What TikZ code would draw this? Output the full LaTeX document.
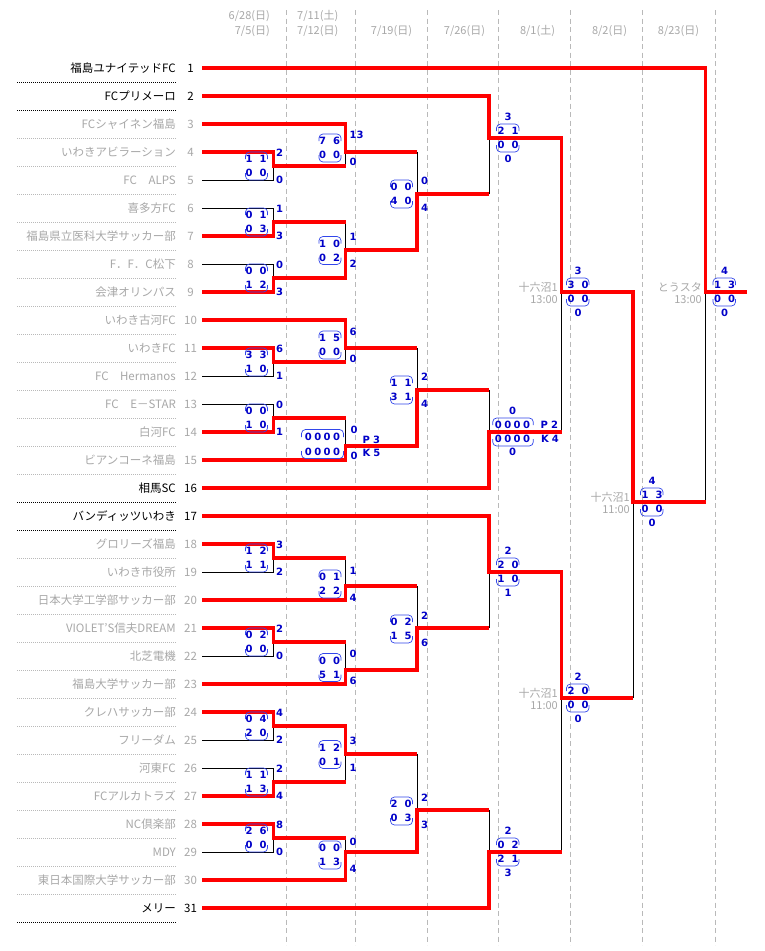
\documentclass[tikz,border=0pt]{standalone}
\usepackage{fontspec}
\setmainfont{Liberation Sans}
\newfontfamily\jpf{Noto Sans CJK JP}
\newfontfamily\dvb{DejaVu Sans}
\definecolor{tred}{RGB}{255,0,0}
\definecolor{tgray}{RGB}{168,168,168}
\definecolor{sgray}{RGB}{185,185,185}
\definecolor{dgray}{RGB}{185,185,185}
\definecolor{sblue}{RGB}{0,0,200}
\definecolor{bblue}{RGB}{50,70,235}
\newcommand\zz{0\hspace{2.4pt}0\hspace{2.4pt}0\hspace{2.4pt}0}
% left-side score box: name, ref x, centre y, ul, ur, ll, lr, upper total, lower total
\newcommand\scL[9]{%
  \draw[brkline] (#2-28,#3-7) -- (#2-28,#3-14) -- (#2-6,#3-14) -- (#2-6,#3-7);
  \draw[brkline] (#2-28,#3+7) -- (#2-28,#3+14) -- (#2-6,#3+14) -- (#2-6,#3+7);
  \node[sc] (#1-a) at (#2-24.5,#3-7) {#4};
  \node[sc] (#1-b) at (#2-10.5,#3-7) {#5};
  \node[sc] (#1-c) at (#2-24.5,#3+7) {#6};
  \node[sc] (#1-d) at (#2-10.5,#3+7) {#7};
  \node[sc,anchor=west] (#1-u) at (#2+2.5,#3-13.5) {#8};
  \node[sc,anchor=west] (#1-l) at (#2+2.5,#3+13.5) {#9};
}
% right-side score box
\newcommand\scR[9]{%
  \draw[brkline] (#2+7.5,#3-7) -- (#2+7.5,#3-14) -- (#2+30,#3-14) -- (#2+30,#3-7);
  \draw[brkline] (#2+7.5,#3+7) -- (#2+7.5,#3+14) -- (#2+30,#3+14) -- (#2+30,#3+7);
  \node[sc] (#1-a) at (#2+12,#3-7) {#4};
  \node[sc] (#1-b) at (#2+26,#3-7) {#5};
  \node[sc] (#1-c) at (#2+12,#3+7) {#6};
  \node[sc] (#1-d) at (#2+26,#3+7) {#7};
  \node[sc] (#1-u) at (#2+19,#3-21) {#8};
  \node[sc] (#1-l) at (#2+19,#3+21) {#9};
}
\begin{document}
\begin{tikzpicture}[x=1pt,y=-1pt,
  win/.style={draw=tred, line width=3.6pt, line join=miter},
  lose/.style={draw=black, line width=0.9pt},
  colline/.style={draw=dgray, line width=0.8pt, dash pattern=on 5pt off 3.5pt},
  sep-tgray/.style={draw=sgray, line width=0.8pt, dash pattern=on 1pt off 1pt},
  sep-black/.style={draw=black, line width=0.8pt, dash pattern=on 1pt off 1pt},
  tname/.style={anchor=base east, font=\jpf\fontsize{11.5}{12}\selectfont, inner sep=0pt},
  tnum/.style={anchor=base, font=\jpf\fontsize{11.5}{12}\selectfont, inner sep=0pt},
  sc/.style={font=\dvb\bfseries\fontsize{10}{11}\selectfont, text=sblue, inner sep=0pt},
  brkline/.style={draw=bblue, line width=0.7pt, rounded corners=4pt},
  venue/.style={anchor=east, font=\jpf\fontsize{11}{12}\selectfont, text=tgray, inner sep=0pt},
  hdr/.style={font=\jpf\fontsize{11}{12}\selectfont, text=tgray, inner sep=0pt}]
\useasboundingbox (0,0) rectangle (764,951);
\fill[white] (0,0) rectangle (764,951);

% column dashes
\foreach \x in {286.5,355,427,498.5,570,642.5,715} \draw[colline] (\x,10) -- (\x,945);

% header
\node[hdr, anchor=east] (h1a) at (270,16) {6/28(日)};
\node[hdr, anchor=east] (h1b) at (270,31) {7/5(日)};
\node[hdr, anchor=west] (h2a) at (297,16) {7/11(土)};
\node[hdr, anchor=west] (h2b) at (297,31) {7/12(日)};
\node[hdr] (h3) at (391.5,31) {7/19(日)};
\node[hdr] (h4) at (464.5,31) {7/26(日)};
\node[hdr] (h5) at (537.5,31) {8/1(土)};
\node[hdr] (h6) at (609.5,31) {8/2(日)};
\node[hdr] (h7) at (678.5,31) {8/23(日)};

% teams
\foreach \i/\n/\c in {1/福島ユナイテッドFC/black, 2/FCプリメーロ/black, 3/FCシャイネン福島/tgray,
  4/いわきアビラーション/tgray, 5/FC　ALPS/tgray, 6/喜多方FC/tgray, 7/福島県立医科大学サッカー部/tgray,
  8/F．F．C松下/tgray, 9/会津オリンパス/tgray, 10/いわき古河FC/tgray, 11/いわきFC/tgray,
  12/FC　Hermanos/tgray, 13/FC　E－STAR/tgray, 14/白河FC/tgray, 15/ビアンコーネ福島/tgray,
  16/相馬SC/black, 17/バンディッツいわき/black, 18/グロリーズ福島/tgray, 19/いわき市役所/tgray,
  20/日本大学工学部サッカー部/tgray, 21/VIOLET’S信夫DREAM/tgray, 22/北芝電機/tgray,
  23/福島大学サッカー部/tgray, 24/クレハサッカー部/tgray, 25/フリーダム/tgray, 26/河東FC/tgray,
  27/FCアルカトラズ/tgray, 28/NC倶楽部/tgray, 29/MDY/tgray, 30/東日本国際大学サッカー部/tgray,
  31/メリー/black}{
  \pgfmathsetmacro\yy{68+28*(\i-1)}
  \coordinate (e\i) at (202,\yy);
  \node[tname, text=\c] (n\i) at (176,\yy+4.3) {\n};
  \node[tnum, text=\c] (k\i) at (190.5,\yy+4.3) {\i};
  \draw[sep-\c] (17,\yy+14.5) -- (177,\yy+14.5);
}

% match junctions
\coordinate (r1a) at (273.5,166); \coordinate (r1b) at (273.5,222);
\coordinate (r1c) at (273.5,278); \coordinate (r1d) at (273.5,362);
\coordinate (r1e) at (273.5,418); \coordinate (r1f) at (273.5,558);
\coordinate (r1g) at (273.5,642); \coordinate (r1h) at (273.5,726);
\coordinate (r1i) at (273.5,782); \coordinate (r1j) at (273.5,838);
\coordinate (r2a) at (345.5,152); \coordinate (r2b) at (345.5,250);
\coordinate (r2c) at (345.5,348); \coordinate (r2d) at (345.5,446);
\coordinate (r2e) at (345.5,586); \coordinate (r2f) at (345.5,670);
\coordinate (r2g) at (345.5,754); \coordinate (r2h) at (345.5,852);
\coordinate (r3a) at (417,194); \coordinate (r3b) at (417,390);
\coordinate (r3c) at (417,628); \coordinate (r3d) at (417,810);
\coordinate (r4a) at (489,138); \coordinate (r4b) at (489,432);
\coordinate (r4c) at (489,572); \coordinate (r4d) at (489,852);
\coordinate (r5a) at (561.5,292); \coordinate (r5b) at (561.5,698);
\coordinate (r6) at (633,502);
\coordinate (fin) at (705.5,292);
\coordinate (fend) at (747,292);

% losers
\draw[lose] (e5) -| (r1a);  \draw[lose] (e6) -| (r1b);
\draw[lose] (e8) -| (r1c);  \draw[lose] (e12) -| (r1d);
\draw[lose] (e13) -| (r1e); \draw[lose] (e19) -| (r1f);
\draw[lose] (e22) -| (r1g); \draw[lose] (e25) -| (r1h);
\draw[lose] (e26) -| (r1i); \draw[lose] (e29) -| (r1j);
\draw[lose] (r1a -| r2a) -- (r2a); \draw[lose] (r1b -| r2b) -- (r2b);
\draw[lose] (r1d -| r2c) -- (r2c); \draw[lose] (r1e -| r2d) -- (r2d);
\draw[lose] (r1f -| r2e) -- (r2e); \draw[lose] (r1g -| r2f) -- (r2f);
\draw[lose] (r1i -| r2g) -- (r2g); \draw[lose] (r1j -| r2h) -- (r2h);
\draw[lose] (r2a -| r3a) -- (r3a); \draw[lose] (r2c -| r3b) -- (r3b);
\draw[lose] (r2e -| r3c) -- (r3c); \draw[lose] (r2g -| r3d) -- (r3d);
\draw[lose] (r3a -| r4a) -- (r4a); \draw[lose] (r3b -| r4b) -- (r4b);
\draw[lose] (r3c -| r4c) -- (r4c); \draw[lose] (r3d -| r4d) -- (r4d);
\draw[lose] (r4b -| r5a) -- (r5a); \draw[lose] (r4d -| r5b) -- (r5b);
\draw[lose] (r5b -| r6) -- (r6);
\draw[lose] (r6 -| fin) -- (fin);

% winners
\draw[win] (e4) -| (r1a) -- (r1a -| r2a);
\draw[win] (e7) -| (r1b) -- (r1b -| r2b);
\draw[win] (e9) -| (r1c) -- (r1c -| r2b);
\draw[win] (e11) -| (r1d) -- (r1d -| r2c);
\draw[win] (e14) -| (r1e) -- (r1e -| r2d);
\draw[win] (e18) -| (r1f) -- (r1f -| r2e);
\draw[win] (e21) -| (r1g) -- (r1g -| r2f);
\draw[win] (e24) -| (r1h) -- (r1h -| r2g);
\draw[win] (e27) -| (r1i) -- (r1i -| r2g);
\draw[win] (e28) -| (r1j) -- (r1j -| r2h);
\draw[win] (e3) -| (r2a) -- (r2a -| r3a);
\draw[win] (r1c) -| (r2b) -- (r2b -| r3a);
\draw[win] (e10) -| (r2c) -- (r2c -| r3b);
\draw[win] (e15) -| (r2d) -- (r2d -| r3b);
\draw[win] (e20) -| (r2e) -- (r2e -| r3c);
\draw[win] (e23) -| (r2f) -- (r2f -| r3c);
\draw[win] (r1h) -| (r2g) -- (r2g -| r3d);
\draw[win] (e30) -| (r2h) -- (r2h -| r3d);
\draw[win] (r2b) -| (r3a) -- (r3a -| r4a);
\draw[win] (r2d) -| (r3b) -- (r3b -| r4b);
\draw[win] (r2f) -| (r3c) -- (r3c -| r4c);
\draw[win] (r2h) -| (r3d) -- (r3d -| r4d);
\draw[win] (e2) -| (r4a) -- (r4a -| r5a);
\draw[win] (e16) -| (r4b) -- (r4b -| r5a);
\draw[win] (e17) -| (r4c) -- (r4c -| r5b);
\draw[win] (e31) -| (r4d) -- (r4d -| r5b);
\draw[win] (r4a) -| (r5a) -- (r5a -| r6);
\draw[win] (r4c) -| (r5b) -- (r5b -| r6);
\draw[win] (r5a) -| (r6) -- (r6 -| fin);
\draw[win] (e1) -| (fin) -- (fend);

% round 1 scores
\scL{s1a}{273.5}{166}{1}{1}{0}{0}{2}{0}
\scL{s1b}{273.5}{222}{0}{1}{0}{3}{1}{3}
\scL{s1c}{273.5}{278}{0}{0}{1}{2}{0}{3}
\scL{s1d}{273.5}{362}{3}{3}{1}{0}{6}{1}
\scL{s1e}{273.5}{418}{0}{0}{1}{0}{0}{1}
\scL{s1f}{273.5}{558}{1}{2}{1}{1}{3}{2}
\scL{s1g}{273.5}{642}{0}{2}{0}{0}{2}{0}
\scL{s1h}{273.5}{726}{0}{4}{2}{0}{4}{2}
\scL{s1i}{273.5}{782}{1}{1}{1}{3}{2}{4}
\scL{s1j}{273.5}{838}{2}{6}{0}{0}{8}{0}
% round 2 scores
\scL{s2a}{347}{148}{7}{6}{0}{0}{13}{0}
\scL{s2b}{347}{250.5}{1}{0}{0}{2}{1}{2}
\scL{s2c}{347}{345}{1}{5}{0}{0}{6}{0}
\scL{s2e}{347}{584}{0}{1}{2}{2}{1}{4}
\scL{s2f}{347}{667.5}{0}{0}{5}{1}{0}{6}
\scL{s2g}{347}{754.5}{1}{2}{0}{1}{3}{1}
\scL{s2h}{347}{855}{0}{0}{1}{3}{0}{4}
% PK match round 2
\draw[brkline] (301.5,437) -- (301.5,429.5) -- (343.5,429.5) -- (343.5,437);
\draw[brkline] (301.5,451) -- (301.5,458.5) -- (343.5,458.5) -- (343.5,451);
\node[sc] (s2d-a) at (322.5,437) {\zz};
\node[sc] (s2d-c) at (322.5,452) {\zz};
\node[sc,anchor=west] (s2d-u) at (350.5,430) {0};
\node[sc,anchor=west] (s2d-l) at (350.5,456) {0};
\node[sc,anchor=west] (s2d-p) at (362.5,439.5) {P\hspace{3.2pt}3};
\node[sc,anchor=west] (s2d-k) at (362.5,453.3) {K\hspace{3pt}5};
% round 3 scores
\scL{s3a}{418.5}{194}{0}{0}{4}{0}{0}{4}
\scL{s3b}{418.5}{390}{1}{1}{3}{1}{2}{4}
\scL{s3c}{418.5}{629}{0}{2}{1}{5}{2}{6}
\scL{s3d}{418.5}{811}{2}{0}{0}{3}{2}{3}
% round 4
\scR{s4a}{489}{138}{2}{1}{0}{0}{3}{0}
\scR{s4c}{489}{572}{2}{0}{1}{0}{2}{1}
\scR{s4d}{489}{852}{0}{2}{2}{1}{2}{3}
\draw[brkline] (492.7,425) -- (492.7,418) -- (533.3,418) -- (533.3,425);
\draw[brkline] (492.7,439) -- (492.7,446) -- (533.3,446) -- (533.3,439);
\node[sc] (s4b-a) at (512.5,425) {\zz};
\node[sc] (s4b-c) at (512.5,439.3) {\zz};
\node[sc] (s4b-u) at (512.7,411) {0};
\node[sc] (s4b-l) at (512.7,452.3) {0};
\node[sc,anchor=west] (s4b-p) at (540.5,425) {P\hspace{3.2pt}2};
\node[sc,anchor=west] (s4b-k) at (541,439.3) {K\hspace{3pt}4};
% round 5, 6, final
\scR{s5a}{559}{292}{3}{0}{0}{0}{3}{0}
\scR{s5b}{559}{698}{2}{0}{0}{0}{2}{0}
\scR{s6}{633}{502}{1}{3}{0}{0}{4}{0}
\scR{sf}{705.5}{292}{1}{3}{0}{0}{4}{0}

% venues
\node[venue] (v5a) at (558,287.5) {十六沼1};
\node[venue] (v5at) at (558,299.5) {13:00};
\node[venue] (v5b) at (558,693.5) {十六沼1};
\node[venue] (v5bt) at (558,705.5) {11:00};
\node[venue] (v6) at (630,497.5) {十六沼1};
\node[venue] (v6t) at (630,509.5) {11:00};
\node[venue] (vf) at (702,287.5) {とうスタ};
\node[venue] (vft) at (702,299.5) {13:00};
\end{tikzpicture}
\end{document}
